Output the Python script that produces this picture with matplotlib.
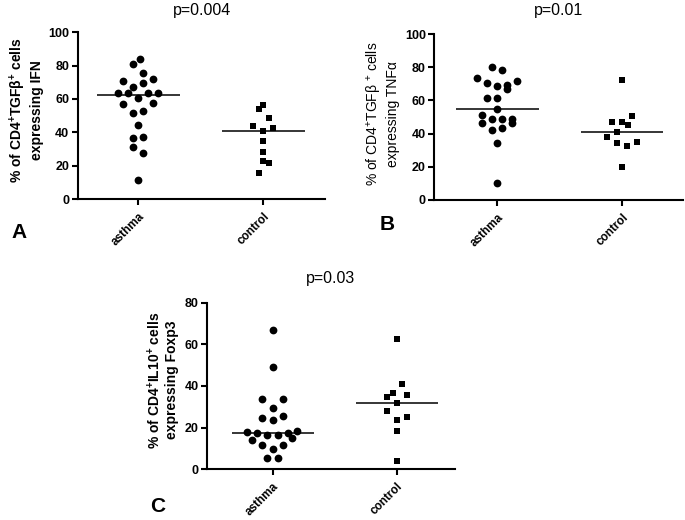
import matplotlib
matplotlib.use("Agg")
import matplotlib.pyplot as plt
import numpy as np

"""
plot.py - scatter (dot) plots of % positive cells, asthma vs control, with median lines
"""

groups = ["asthma", "control"]

# Panel A: IFN ------------------------------------------------------------
a_asthma = [83.8, 81.0, 75.8, 71.0, 72.0, 69.4, 67.4, 63.8, 63.8, 63.8, 63.8,
            60.8, 57.0, 57.8, 52.8, 51.4, 44.4, 36.8, 37.2, 31.0, 27.8, 11.6]
a_asthma_dx = [0.01, -0.04, 0.04, -0.12, 0.12, 0.04, -0.04, -0.16, -0.08, 0.08, 0.16,
               0.0, -0.12, 0.12, 0.04, -0.04, 0.0, -0.04, 0.04, -0.04, 0.04, 0.0]
a_control = [56.4, 53.8, 48.8, 44.0, 42.8, 40.8, 34.8, 28.4, 22.8, 21.4, 15.8]
a_control_dx = [0.0, -0.035, 0.045, -0.08, 0.08, 0.0, 0.0, 0.0, 0.0, 0.045, -0.035]

# Panel B: TNFa -----------------------------------------------------------
b_asthma = [79.9, 78.3, 73.3, 71.7, 70.3, 68.7, 69.3, 67.0, 61.3, 61.3, 54.6,
            51.2, 48.6, 48.6, 48.6, 46.6, 46.2, 42.2, 43.2, 34.5, 10.2]
b_asthma_dx = [-0.045, 0.035, -0.165, 0.155, -0.085, 0.0, 0.075, 0.075, -0.085, 0.0, 0.0,
               -0.125, -0.045, 0.035, 0.115, -0.125, 0.115, -0.045, 0.035, 0.0, 0.0]
b_control = [72.3, 50.6, 47.2, 47.2, 45.2, 40.8, 38.1, 34.1, 32.7, 35.1, 20.1]
b_control_dx = [0.0, 0.08, -0.08, 0.0, 0.043, -0.04, -0.125, -0.04, 0.04, 0.12, 0.0]

# Panel C: Foxp3 ----------------------------------------------------------
c_asthma = [66.9, 49.1, 33.6, 33.6, 29.3, 24.8, 25.6, 23.7, 18.1, 17.3, 16.5,
            16.5, 17.3, 18.5, 14.1, 14.9, 11.7, 11.7, 9.7, 5.3, 5.3]
c_asthma_dx = [0.0, 0.0, -0.084, 0.08, 0.0, -0.084, 0.08, 0.0, -0.205, -0.124, -0.044,
               0.04, 0.12, 0.2, -0.165, 0.16, -0.084, 0.08, 0.0, -0.044, 0.04]
c_control = [62.4, 40.8, 36.8, 34.9, 35.7, 31.7, 28.1, 25.0, 23.7, 18.5, 4.1]
c_control_dx = [0.0, 0.045, -0.03, -0.075, 0.085, 0.0, -0.075, 0.085, 0.0, 0.0, 0.0]

p_values = ["p=0.004", "p=0.01", "p=0.03"]
panel_letters = ["A", "B", "C"]
y_labels = [
    "% of CD4$^{\\mathbf{+}}$TGF\u03b2$^{\\mathbf{+}}$ cells\nexpressing IFN",
    "% of CD4$^{+}$TGF\u03b2 $^{+}$ cells\nexpressing TNF\u03b1",
    "% of CD4$^{\\mathbf{+}}$IL10$^{\\mathbf{+}}$ cells\nexpressing Foxp3",
]


def dot_panel(ax, asthma, asthma_dx, control, control_dx, ymax, xlim):
    ax.plot(0 + np.array(asthma_dx), asthma, "o", color="black", ms=5.6, mew=0)
    ax.plot(1 + np.array(control_dx), control, "s", color="black", ms=5.0, mew=0)
    # median lines
    for x, vals in [(0, asthma), (1, control)]:
        ax.hlines(np.median(vals), x - 0.33, x + 0.33, color="black", lw=1.1)
    ax.set_xlim(*xlim)
    ax.set_ylim(0, ymax)
    ax.set_yticks(np.arange(0, ymax + 1, 20))
    ax.set_xticks([0, 1])
    ax.set_xticklabels(groups, rotation=45, ha="right", rotation_mode="anchor",
                       fontsize=8.5, fontweight="bold")
    for lab in ax.get_yticklabels():
        lab.set_fontweight("bold")
        lab.set_fontsize(9)
    for side in ["top", "right"]:
        ax.spines[side].set_visible(False)
    for side in ["left", "bottom"]:
        ax.spines[side].set_linewidth(1.5)
    ax.tick_params(width=1.5, length=4, direction="out", pad=2)
    ax.tick_params(axis="x", pad=4)


def main():
    plt.rcParams["font.family"] = ["Liberation Sans", "DejaVu Sans"]
    plt.rcParams["mathtext.fontset"] = "custom"
    plt.rcParams["mathtext.rm"] = "Liberation Sans"
    plt.rcParams["mathtext.bf"] = "Liberation Sans:bold"

    fig = plt.figure(figsize=(6.85, 5.2), dpi=100)

    ax_a = fig.add_axes([0.1134, 0.6173, 0.3611, 0.3206])
    ax_b = fig.add_axes([0.6340, 0.6154, 0.3630, 0.3192])
    ax_c = fig.add_axes([0.3026, 0.0975, 0.3616, 0.3204])

    dot_panel(ax_a, a_asthma, a_asthma_dx, a_control, a_control_dx, 100, (-0.485, 1.494))
    dot_panel(ax_b, b_asthma, b_asthma_dx, b_control, b_control_dx, 100, (-0.504, 1.486))
    dot_panel(ax_c, c_asthma, c_asthma_dx, c_control, c_control_dx, 80, (-0.527, 1.47))

    label_pos = [(-0.21, 0.534), (-0.208, 0.52), (-0.181, 0.536)]
    weights = ["bold", "normal", "bold"]
    for ax, lab, pos, w in zip([ax_a, ax_b, ax_c], y_labels, label_pos, weights):
        ax.set_ylabel(lab, fontsize=10, fontweight=w, linespacing=1.15)
        ax.yaxis.label.set_va("center")
        ax.yaxis.set_label_coords(*pos)

    # p values and panel letters in pixel positions of the reference
    title_xy = [(202, 10), (559, 10), (331, 278)]
    letter_xy = [(19.5, 232.5), (387.5, 224.5), (157.5, 506.5)]
    for txt, (x, y) in zip(p_values, title_xy):
        fig.text(x / 685, 1 - y / 520, txt, fontsize=11.5, ha="center", va="center")
    for txt, (x, y) in zip(panel_letters, letter_xy):
        fig.text(x / 685, 1 - y / 520, txt, fontsize=15, fontweight="bold",
                 ha="center", va="center")

    fig.savefig("out.png", dpi=100)


if __name__ == "__main__":
    main()
